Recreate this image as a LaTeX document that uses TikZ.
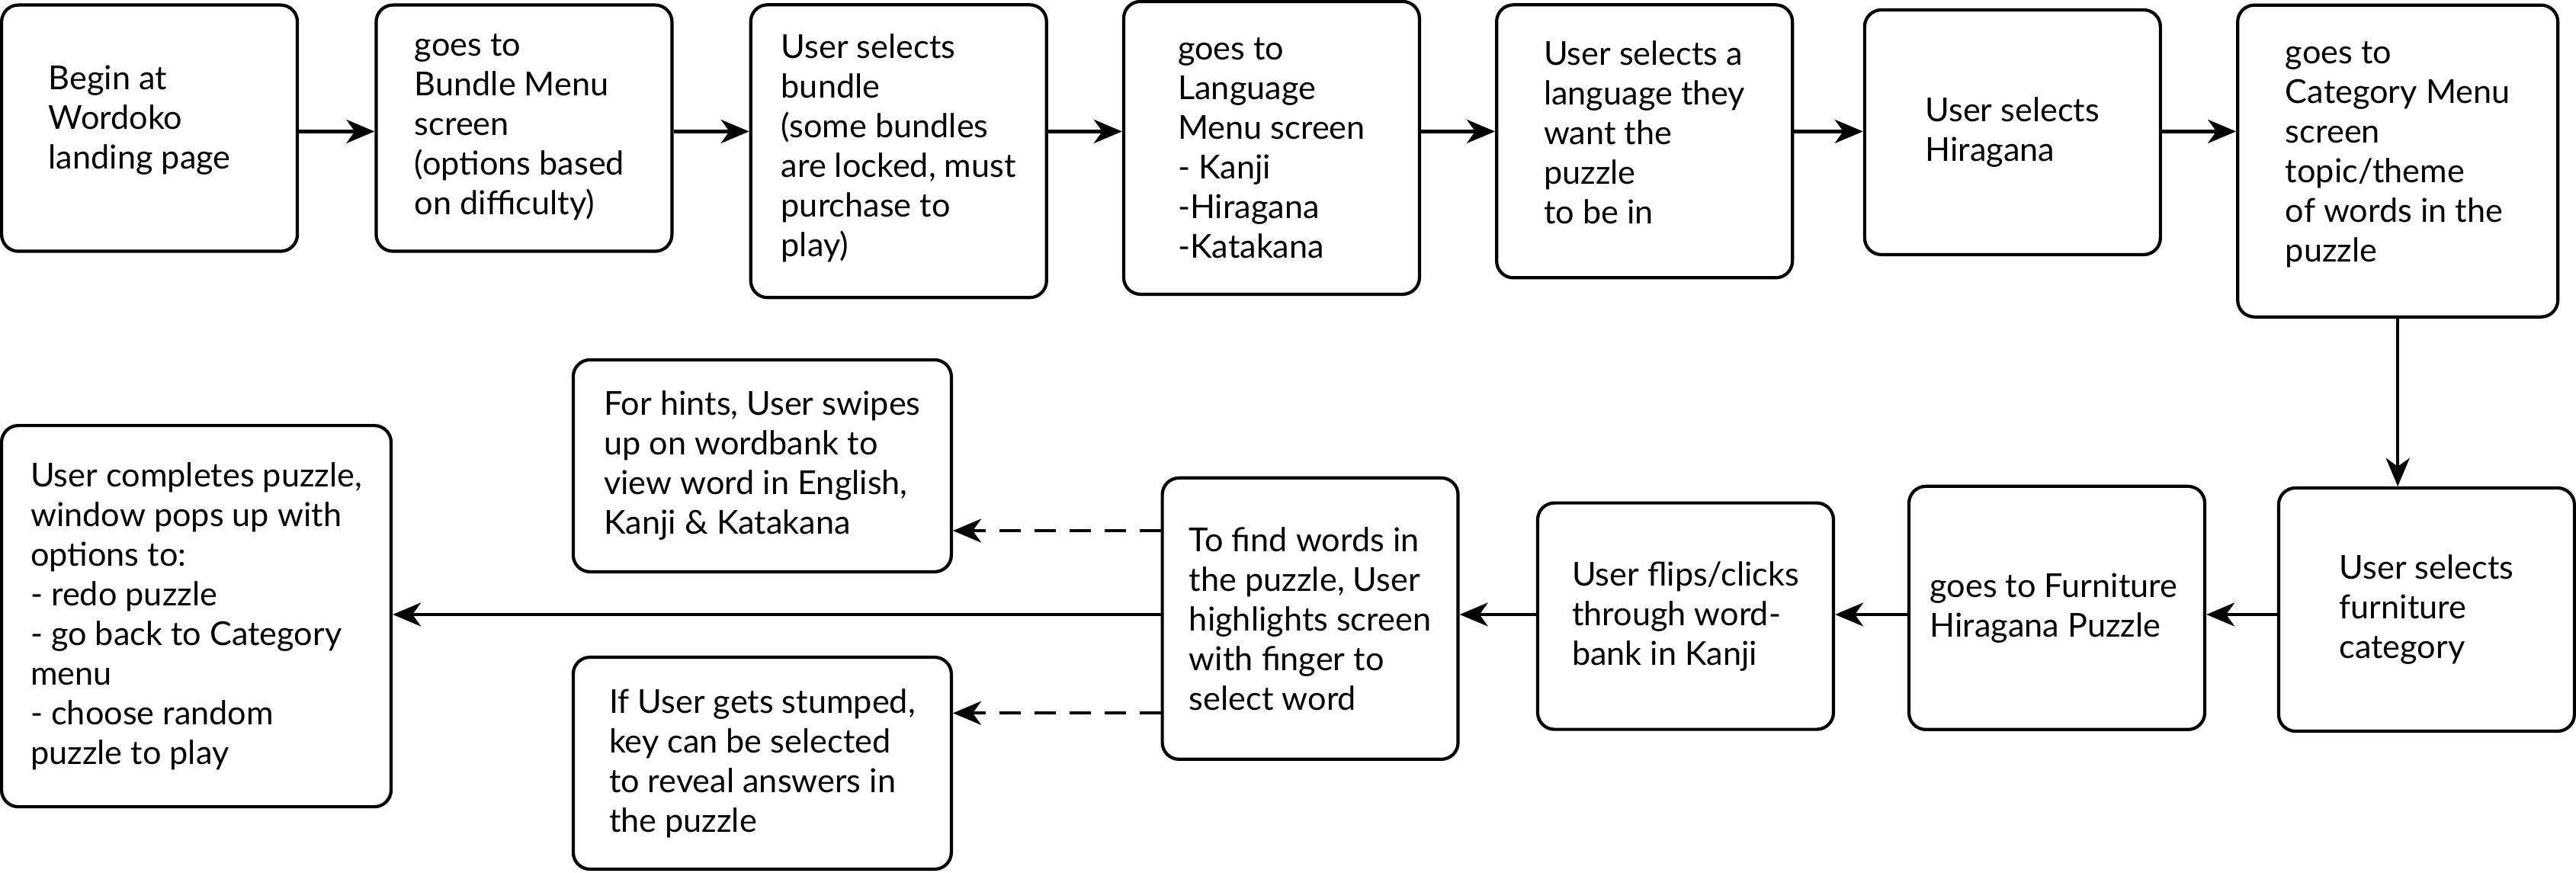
\documentclass[tikz,border=0pt]{standalone}
\usepackage{fontspec}
\setmainfont{Lato}
\usetikzlibrary{arrows.meta}

\begin{document}
\begin{tikzpicture}[x=2.155mm,y=2.155mm]
                \tikzstyle{every node}+=[inner sep=0pt]
                \tikzstyle{flowbox}=[draw=black, line width=1.2pt, rounded corners=2.2mm, align=left, font=\fontsize{12.3}{14.8}\selectfont]
                \tikzstyle{flow}=[draw=black, line width=1.2pt, -{Stealth[length=3.7mm,width=3.1mm,inset=1.1mm]}]
                \tikzstyle{hint}=[flow, dash pattern=on 2.8mm off 1.8mm]
                \useasboundingbox (0,0) rectangle (156.8,-53.1);
                \coordinate (toprow) at (0,-8.0);
                \coordinate (lowrow) at (0,-37.4);
                \coordinate (hintrow) at (0,-32.3);
                \coordinate (keyrow) at (0,-43.4);
                \node [flowbox, minimum width=38.8mm, minimum height=32.3mm] (start) at (9.1,-7.8) {Begin at\\Wordoko\\landing page\rule{2.6mm}{0pt}\\[-2.4mm]};
                \node [flowbox, minimum width=38.8mm, minimum height=32.3mm] (bundles) at (31.9,-7.8) {goes to\\Bundle Menu\\screen\\(options based\rule{1.2mm}{0pt}\\on difficulty)\\[-4.1mm]};
                \node [flowbox, minimum width=38.8mm, minimum height=38.4mm] (pickbundle) at (54.7,-9.2) {User selects\\bundle\\(some bundles\\are locked, must\\purchase to\\play)\\[-3.7mm]};
                \node [flowbox, minimum width=38.8mm, minimum height=38.4mm] (langs) at (77.4,-9.0) {goes to\\Language\\Menu screen\\- Kanji\\-Hiragana\\-Katakana};
                \node [flowbox, minimum width=38.8mm, minimum height=35.8mm] (picklang) at (100.1,-8.6) {User selects a\\language they\\want the\\puzzle\\to be in\\[-2.8mm]};
                \node [flowbox, minimum width=38.8mm, minimum height=32.1mm] (pickhira) at (122.5,-8.05) {User selects\\Hiragana};
                \node [flowbox, minimum width=42.0mm, minimum height=40.9mm] (cats) at (145.95,-9.8) {goes to\\Category Menu\\screen\\topic/theme\\of words in the\\puzzle\\[-2.8mm]};
                \node [flowbox, minimum width=38.8mm, minimum height=31.9mm] (pickcat) at (147.7,-37.1) {User selects\\furniture\\category};
                \node [flowbox, minimum width=38.8mm, minimum height=31.9mm] (puzzle) at (125.2,-37.0) {goes to Furniture\rule{0.8mm}{0pt}\\Hiragana Puzzle};
                \node [flowbox, minimum width=38.8mm, minimum height=29.7mm] (wordbank) at (102.6,-37.5) {User flips/clicks\\through word-\\bank in Kanji};
                \node [flowbox, minimum width=38.8mm, minimum height=36.9mm] (find) at (79.75,-37.65) {To find words in\\the puzzle, User\\highlights screen\\with finger to\\select word};
                \node [flowbox, minimum width=49.6mm, minimum height=27.8mm] (hints) at (46.4,-28.35) {For hints, User swipes\\up on wordbank to\\view word in English,\\Kanji \& Katakana};
                \node [flowbox, minimum width=49.6mm, minimum height=27.8mm] (reveal) at (46.4,-46.45) {If User gets stumped,\\key can be selected\\to reveal answers in\\the puzzle};
                \node [flowbox, minimum width=51.1mm, minimum height=50.0mm] (done) at (11.95,-37.5) {User completes puzzle,\\window pops up with\\options to:\\- redo puzzle\\- go back to Category\\menu\\- choose random\\puzzle to play};
                \draw [flow] (start.east |- toprow) -- (bundles.west |- toprow);
                \draw [flow] (bundles.east |- toprow) -- (pickbundle.west |- toprow);
                \draw [flow] (pickbundle.east |- toprow) -- (langs.west |- toprow);
                \draw [flow] (langs.east |- toprow) -- (picklang.west |- toprow);
                \draw [flow] (picklang.east |- toprow) -- (pickhira.west |- toprow);
                \draw [flow] (pickhira.east |- toprow) -- (cats.west |- toprow);
                \draw [flow] (cats.south) -- (cats.south |- pickcat.north);
                \draw [flow] (pickcat.west |- lowrow) -- (puzzle.east |- lowrow);
                \draw [flow] (puzzle.west |- lowrow) -- (wordbank.east |- lowrow);
                \draw [flow] (wordbank.west |- lowrow) -- (find.east |- lowrow);
                \draw [flow] (find.west |- lowrow) -- (done.east |- lowrow);
                \draw [hint] (find.west |- hintrow) -- (hints.east |- hintrow);
                \draw [hint] (find.west |- keyrow) -- (reveal.east |- keyrow);
\end{tikzpicture}
\end{document}
